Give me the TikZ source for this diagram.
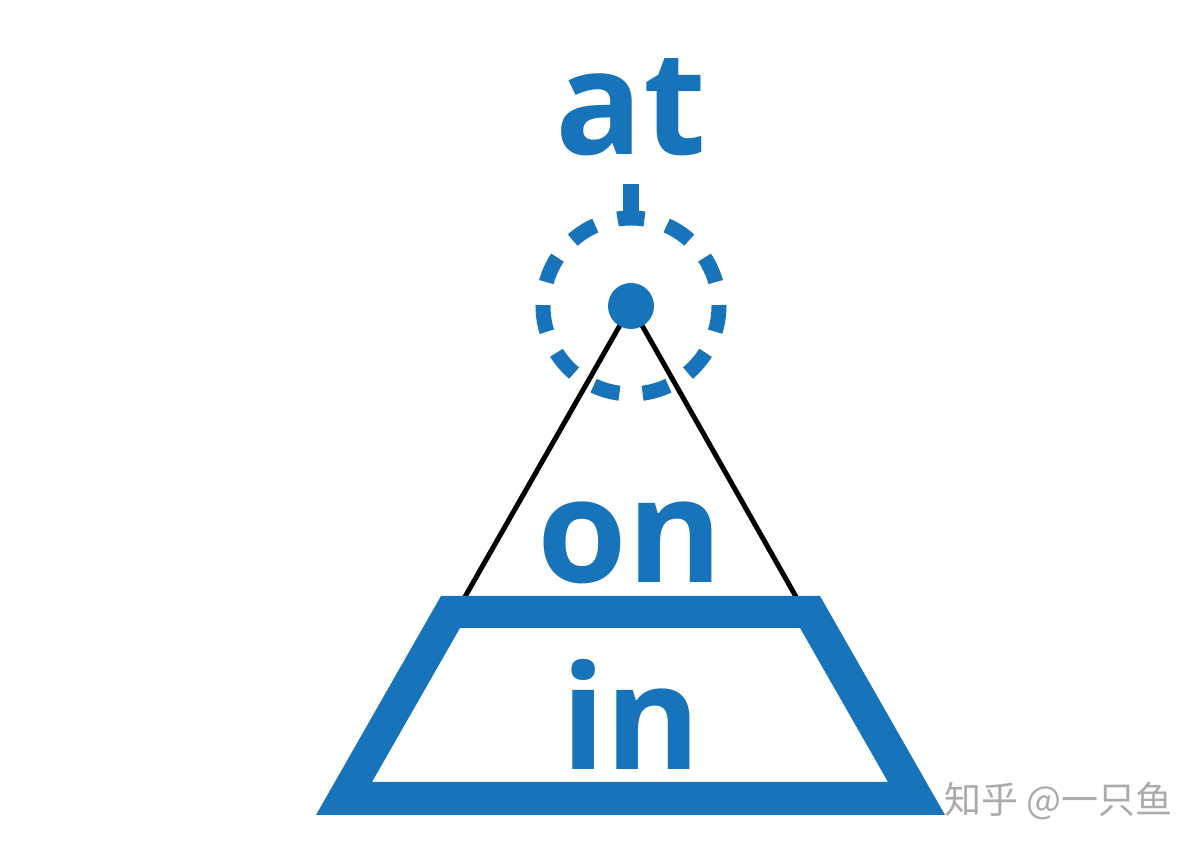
\documentclass[tikz,border=0pt]{standalone}
\usepackage{fontspec}
\setmainfont{Open Sans}
\newfontfamily\cjk{Noto Sans CJK SC}
\definecolor{prepblue}{HTML}{1773BA}
\definecolor{wmgray}{HTML}{ABABAB}
\begin{document}
\begin{tikzpicture}[x=1pt,y=1pt,
  bigword/.style={text=prepblue,font=\fontsize{145}{145}\selectfont\bfseries,inner sep=0pt,anchor=base},
  dashring/.style={draw=prepblue,line width=15pt,dash pattern=on 27pt off 23.27pt},
  blackleg/.style={draw=black,line width=5pt},
  pointer/.style={draw=prepblue,line width=16pt}]
\useasboundingbox[fill=white] (0,0) rectangle (1200,848);
% words
\node[bigword] (at) at (631,693) {at};
\node[bigword] (on) at (630,265) {on};
\node[bigword] (in) at (631,78) {in};
% point and ring
\coordinate (c) at (631,542);
\coordinate (ptop) at (631,664);
\coordinate (pbot) at (631,634);
\draw[pointer] (ptop) -- (pbot);
\draw[dashring] (c) ++(81.2:88) arc[start angle=81.2, end angle=441.2, radius=88];
% legs
\coordinate (legL) at (462,246);
\coordinate (legR) at (799,246);
\draw[blackleg] (c) -- (legL);
\draw[blackleg] (c) -- (legR);
\node[circle,fill=prepblue,minimum size=46pt,inner sep=0pt] (dot) at (c) {};
% trapezoid frame
\fill[prepblue,even odd rule]
  (316,33) -- (945,33) -- (820,252) -- (441,252) -- cycle
  (372,66) -- (888,66) -- (800,220) -- (460,220) -- cycle;
% watermark
\node[text=wmgray,font=\cjk\fontsize{37}{37}\selectfont,anchor=west,inner sep=0pt] (wm) at (944,47) {知乎 @一只鱼};
\end{tikzpicture}
\end{document}
